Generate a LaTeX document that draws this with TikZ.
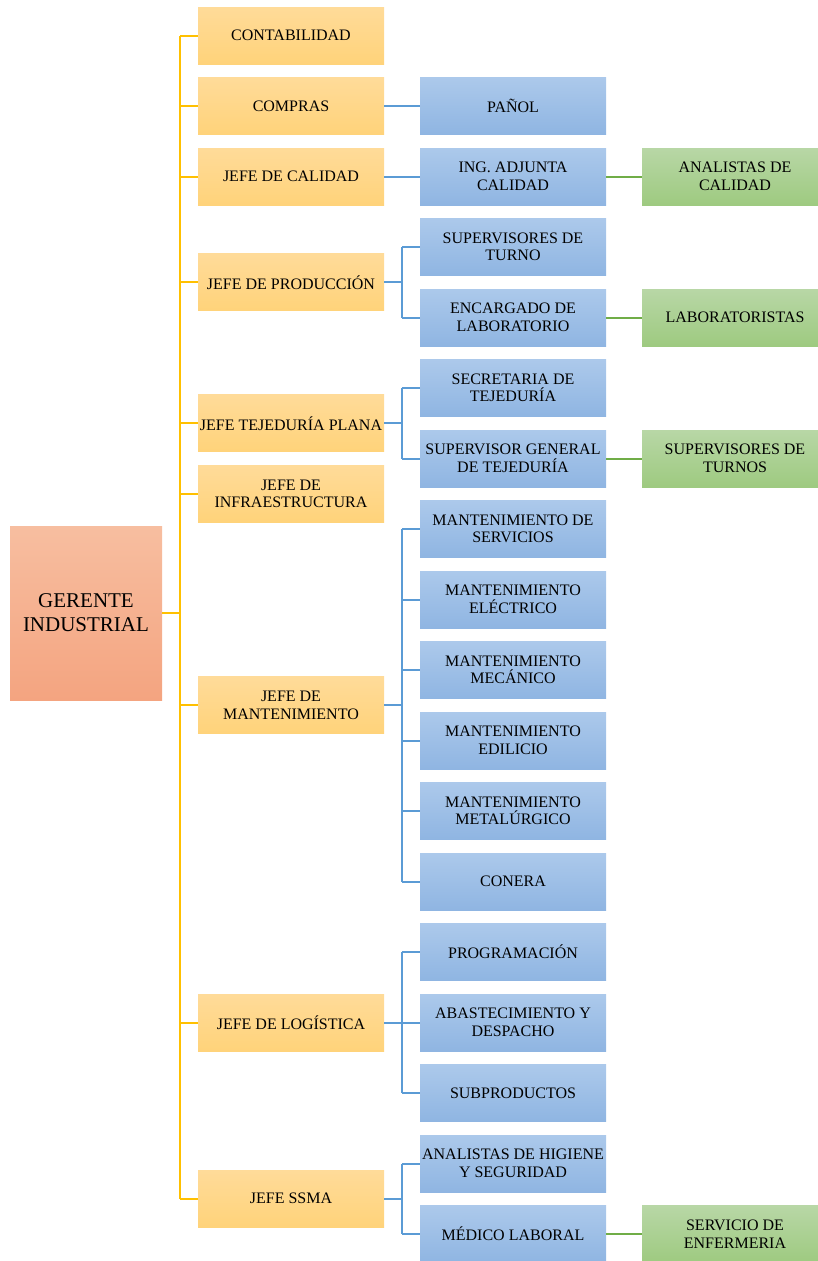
\documentclass[tikz,border=0pt]{standalone}
\usepackage{fontspec}
\setmainfont{Liberation Serif}
\usetikzlibrary{positioning}

\definecolor{ytop}{RGB}{255,219,153}
\definecolor{ybot}{RGB}{255,211,122}
\definecolor{btop}{RGB}{172,201,235}
\definecolor{bbot}{RGB}{143,181,226}
\definecolor{gtop}{RGB}{184,215,166}
\definecolor{gbot}{RGB}{158,202,128}
\definecolor{rtop}{RGB}{247,190,160}
\definecolor{rbot}{RGB}{244,164,128}
\definecolor{yline}{RGB}{255,192,0}
\definecolor{bline}{RGB}{91,155,213}
\definecolor{gline}{RGB}{112,173,71}

\tikzset{
  box/.style={minimum width=186pt, minimum height=57pt, inner sep=0pt,
    align=center, font=\fontsize{16}{17.5}\selectfont},
  jefe/.style={box, top color=ytop, bottom color=ybot},
  area/.style={box, top color=btop, bottom color=bbot},
  staff/.style={box, top color=gtop, bottom color=gbot},
  ylink/.style={draw=yline, line width=2pt},
  blink/.style={draw=bline, line width=2pt},
  glink/.style={draw=gline, line width=2pt}
}

\begin{document}
\begin{tikzpicture}[x=1pt, y=-1pt]
\useasboundingbox (0,0) rectangle (817,1261);

% Gerente
\node[top color=rtop, bottom color=rbot, minimum width=152pt, minimum height=174pt,
  inner sep=0pt, align=center, font=\fontsize{21}{24}\selectfont]
  (ger) at (86,613) {GERENTE\\INDUSTRIAL};

% Jefes (yellow column)
\node[jefe] (cont) at (291,35.5) {CONTABILIDAD};
\node[jefe] (comp) at (291,106) {COMPRAS};
\node[jefe] (cal) at (291,176.5) {JEFE DE CALIDAD};
\node[jefe] (prod) at (291,282.25) {JEFE DE PRODUCCIÓN};
\node[jefe] (tej) at (291,423.25) {JEFE TEJEDURÍA PLANA};
\node[jefe] (infra) at (291,493.75) {JEFE DE\\INFRAESTRUCTURA};
\node[jefe] (mant) at (291,705.25) {JEFE DE\\MANTENIMIENTO};
\node[jefe] (log) at (291,1022.5) {JEFE DE LOGÍSTICA};
\node[jefe] (ssma) at (291,1198.75) {JEFE SSMA};

% Areas (blue column)
\node[area] (panol) at (513,106) {PAÑOL};
\node[area] (ing) at (513,176.5) {ING. ADJUNTA\\CALIDAD};
\node[area] (sup) at (513,247) {SUPERVISORES DE\\TURNO};
\node[area] (enc) at (513,317.5) {ENCARGADO DE\\LABORATORIO};
\node[area] (secr) at (513,388) {SECRETARIA DE\\TEJEDURÍA};
\node[area] (supg) at (513,458.5) {SUPERVISOR GENERAL\\DE TEJEDURÍA};
\node[area] (mserv) at (513,529) {MANTENIMIENTO DE\\SERVICIOS};
\node[area] (melec) at (513,599.5) {MANTENIMIENTO\\ELÉCTRICO};
\node[area] (mmec) at (513,670) {MANTENIMIENTO\\MECÁNICO};
\node[area] (medil) at (513,740.5) {MANTENIMIENTO\\EDILICIO};
\node[area] (mmet) at (513,811) {MANTENIMIENTO\\METALÚRGICO};
\node[area] (coner) at (513,881.5) {CONERA};
\node[area] (prog) at (513,952) {PROGRAMACIÓN};
\node[area] (abas) at (513,1022.5) {ABASTECIMIENTO Y\\DESPACHO};
\node[area] (subp) at (513,1093) {SUBPRODUCTOS};
\node[area] (hig) at (513,1163.5) {ANALISTAS DE HIGIENE\\Y SEGURIDAD};
\node[area] (med) at (513,1234) {MÉDICO LABORAL};

% Staff (green column)
\node[staff] (anal) at (735,176.5) {ANALISTAS DE\\CALIDAD};
\node[staff] (lab) at (735,317.5) {LABORATORISTAS};
\node[staff] (supt) at (735,458.5) {SUPERVISORES DE\\TURNOS};
\node[staff] (enf) at (735,1234) {SERVICIO DE\\ENFERMERIA};

% Trunk from gerente
\coordinate (trunk) at (180,0);
\draw[ylink] (ger.east) -- (ger.east -| trunk);
\draw[ylink] (trunk |- cont.west) -- (trunk |- ssma.west);
\foreach \j in {cont,comp,cal,prod,tej,infra,mant,log,ssma}
  \draw[ylink] (trunk |- \j.west) -- (\j.west);

% Single links jefe -> area
\draw[blink] (comp) -- (panol);
\draw[blink] (cal) -- (ing);

% Bus links jefe -> areas
\coordinate (bbus) at (402,0);
\draw[blink] (prod.east) -- (prod.east -| bbus);
\draw[blink] (bbus |- sup.west) -- (bbus |- enc.west);
\foreach \a in {sup,enc}
  \draw[blink] (bbus |- \a.west) -- (\a.west);

\draw[blink] (tej.east) -- (tej.east -| bbus);
\draw[blink] (bbus |- secr.west) -- (bbus |- supg.west);
\foreach \a in {secr,supg}
  \draw[blink] (bbus |- \a.west) -- (\a.west);

\draw[blink] (mant.east) -- (mant.east -| bbus);
\draw[blink] (bbus |- mserv.west) -- (bbus |- coner.west);
\foreach \a in {mserv,melec,mmec,medil,mmet,coner}
  \draw[blink] (bbus |- \a.west) -- (\a.west);

\draw[blink] (log.east) -- (log.east -| bbus);
\draw[blink] (bbus |- prog.west) -- (bbus |- subp.west);
\foreach \a in {prog,abas,subp}
  \draw[blink] (bbus |- \a.west) -- (\a.west);

\draw[blink] (ssma.east) -- (ssma.east -| bbus);
\draw[blink] (bbus |- hig.west) -- (bbus |- med.west);
\foreach \a in {hig,med}
  \draw[blink] (bbus |- \a.west) -- (\a.west);

% Links area -> staff
\draw[glink] (ing) -- (anal);
\draw[glink] (enc) -- (lab);
\draw[glink] (supg) -- (supt);
\draw[glink] (med) -- (enf);

\end{tikzpicture}
\end{document}
